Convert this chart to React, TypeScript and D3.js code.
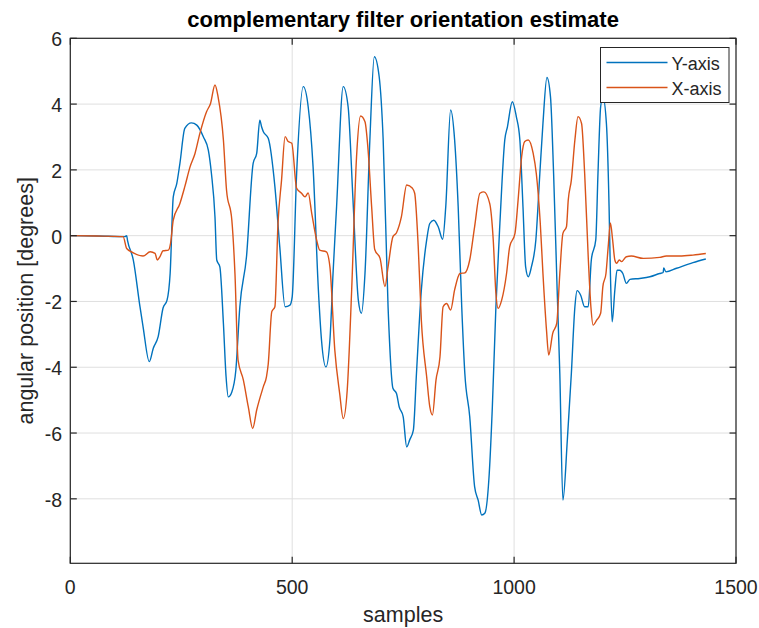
import React from "react";
import * as d3 from "d3";

// Complementary-filter angle estimates, [sample index, degrees]
const yAxisTrace: [number, number][] = [
  [0, 0], [60, -0.01], [123, -0.03], [127, 0.0], [129, -0.15], [142, -0.74], [157, -2.16], [164, -2.77],
  [178, -3.83], [187, -3.42], [198, -3.07], [209, -2.2], [218, -1.96], [225, -1.14], [232, 1.18], [240, 1.59],
  [247, 2.2], [258, 3.26], [273, 3.43], [285, 3.36], [300, 3.0], [311, 2.6], [318, 1.89], [326, 0.57],
  [330, -0.74], [337, -0.95], [345, -2.67], [351, -4.29], [356, -4.9], [364, -4.75], [373, -4.09], [382, -2.16],
  [397, -0.64], [412, 2.2], [420, 2.5], [427, 3.51], [431, 3.31], [435, 3.16], [446, 2.96], [461, 1.49],
  [472, -0.34], [484, -2.16], [495, -2.11], [500, -1.86], [510, 1.89], [525, 4.53], [536, 3.92], [547, 2.1],
  [559, -1.65], [566, -3.17], [576, -3.99], [585, -3.17], [592, -1.15], [600, 0.88], [615, 4.53], [626, 3.92],
  [637, 1.08], [649, -1.96], [656, -2.36], [664, -1.15], [675, 2.91], [685, 5.44], [696, 4.83], [705, 2.91],
  [716, -2.16], [727, -4.64], [735, -4.8], [741, -5.2], [750, -5.5], [758, -6.42], [765, -6.2], [773, -5.91],
  [780, -4.19], [791, -1.65], [803, -0.13], [810, 0.37], [819, 0.47], [829, 0.27], [839, -0.11], [846, 0.88],
  [857, 3.82], [866, 2.91], [874, 0.88], [882, -2.16], [889, -4.19], [900, -5.5], [911, -7.63], [919, -8.04],
  [927, -8.49], [934, -8.44], [944, -7.23], [951, -5.2], [959, -2.16], [968, 0.37], [979, 2.91], [985, 3.31],
  [996, 4.07], [1005, 3.62], [1013, 2.91], [1020, 0.88], [1026, -0.95], [1032, -1.25], [1039, -0.95], [1049, -0.13],
  [1058, 1.89], [1065, 3.41], [1074, 4.81], [1082, 4.22], [1089, 1.89], [1097, -1.65], [1103, -4.19], [1110, -8.04],
  [1120, -6.2], [1129, -4.19], [1137, -2.16], [1142, -1.67], [1150, -1.81], [1159, -2.16], [1167, -2.16], [1174, -0.74],
  [1184, -0.13], [1189, 1.89], [1195, 3.92], [1200, 4.22], [1208, 3.41], [1214, 0.88], [1217, -1.15], [1221, -2.62],
  [1227, -1.65], [1232, -1.05], [1238, -1.05], [1245, -1.15], [1253, -1.45], [1261, -1.33], [1283, -1.3], [1306, -1.25],
  [1328, -1.15], [1336, -1.12], [1337, -0.98], [1342, -1.1], [1366, -0.99], [1403, -0.82], [1432, -0.71],
];

const xAxisTrace: [number, number][] = [
  [0, 0], [60, -0.01], [119, -0.03], [127, -0.39], [142, -0.52], [164, -0.62], [180, -0.49], [191, -0.54],
  [196, -0.74], [202, -0.64], [209, -0.46], [221, -0.44], [226, -0.23], [232, 0.47], [247, 0.98], [258, 1.49],
  [270, 2.1], [281, 2.5], [292, 3.11], [307, 3.77], [316, 4.02], [326, 4.58], [333, 4.22], [345, 2.91],
  [352, 1.39], [364, 0.47], [371, -1.15], [378, -3.78], [390, -4.39], [401, -5.2], [411, -5.86], [420, -5.3],
  [435, -4.59], [442, -4.29], [446, -3.9], [454, -2.31], [461, -2.16], [468, 0.37], [476, 1.69], [484, 3.01],
  [491, 2.86], [499, 2.81], [510, 1.44], [521, 1.29], [529, 1.18], [536, 1.3], [544, 0.68], [555, -0.13],
  [562, -0.44], [577, -0.49], [585, -0.95], [596, -3.48], [607, -4.8], [615, -5.56], [624, -4.69], [634, -1.65],
  [645, 2.4], [654, 3.64], [664, 3.46], [671, 2.6], [679, 0.88], [686, -0.42], [698, -0.69], [709, -1.55],
  [716, -0.95], [727, -0.03], [735, 0.09], [746, 0.57], [758, 1.54], [771, 1.44], [776, 1.29], [784, -0.34],
  [791, -2.57], [803, -4.29], [810, -5.2], [816, -5.45], [824, -4.39], [833, -3.68], [840, -2.16], [848, -2.06],
  [857, -2.26], [866, -1.65], [878, -1.15], [889, -1.13], [900, -0.74], [911, 0.27], [923, 1.29], [932, 1.33],
  [945, 0.98], [953, -0.13], [959, -1.75], [964, -2.21], [972, -1.96], [983, -1.15], [990, -0.34], [1002, 0.07],
  [1009, 1.08], [1017, 2.4], [1024, 2.86], [1032, 2.91], [1043, 2.5], [1050, 1.89], [1059, 0.37], [1065, -1.15],
  [1073, -2.87], [1078, -3.63], [1087, -2.97], [1096, -2.67], [1103, -1.15], [1110, 0.07], [1118, 0.27], [1122, 1.08],
  [1129, 1.69], [1137, 2.91], [1144, 3.62], [1152, 3.41], [1159, 1.89], [1167, -0.64], [1173, -2.16], [1178, -2.72],
  [1186, -2.57], [1195, -2.36], [1200, -1.55], [1207, -1.15], [1212, -0.34], [1217, 0.39], [1222, -0.13], [1227, -0.74],
  [1231, -0.84], [1237, -0.74], [1242, -0.79], [1253, -0.64], [1264, -0.62], [1291, -0.69], [1328, -0.66], [1343, -0.62],
  [1373, -0.62], [1403, -0.59], [1432, -0.54],
];

const xTicks = [0, 500, 1000, 1500];
const yTicks = [-8, -6, -4, -2, 0, 2, 4, 6];
const xDomain: [number, number] = [0, 1500];
const yDomain: [number, number] = [-9.96, 6];

const seriesNames = ["Y-axis", "X-axis"];
const seriesColors = ["#0072BD", "#D95319"];

const W = 759;
const H = 628;
const left = 70.3;
const right = 736;
const top = 38.3;
const bottom = 563.3;

const FONT = "'Liberation Sans', Arial, Helvetica, sans-serif";
const INK = "#262626";

export default function App() {
  const x = d3.scaleLinear().domain(xDomain).range([left, right]);
  const y = d3.scaleLinear().domain(yDomain).range([bottom, top]);
  const line = d3
    .line<[number, number]>()
    .x((d) => x(d[0]))
    .y((d) => y(d[1]))
    .curve(d3.curveMonotoneX);
  const traces = [yAxisTrace, xAxisTrace];
  const tickLen = 6.5;

  return (
    <svg
      width={W}
      height={H}
      style={{ position: "absolute", left: 0, top: 0, background: "#fff" }}
      fontFamily={FONT}
    >
      <rect x={0} y={0} width={W} height={H} fill="#fff" />
      {/* grid */}
      <g stroke="#dfdfdf" strokeWidth={1}>
        {xTicks.map((t) => (
          <line key={"gx" + t} x1={x(t)} x2={x(t)} y1={top} y2={bottom} />
        ))}
        {yTicks.map((t) => (
          <line key={"gy" + t} x1={left} x2={right} y1={y(t)} y2={y(t)} />
        ))}
      </g>
      {/* data */}
      <g fill="none" strokeWidth={1.4} strokeLinejoin="round">
        {traces.map((tr, i) => (
          <path key={i} d={line(tr) || ""} stroke={seriesColors[i]} />
        ))}
      </g>
      {/* box and ticks */}
      <g stroke={INK} strokeWidth={1.2} fill="none">
        <rect x={left} y={top} width={right - left} height={bottom - top} />
        {xTicks.map((t) => (
          <g key={"tx" + t}>
            <line x1={x(t)} x2={x(t)} y1={bottom} y2={bottom - tickLen} />
            <line x1={x(t)} x2={x(t)} y1={top} y2={top + tickLen} />
          </g>
        ))}
        {yTicks.map((t) => (
          <g key={"ty" + t}>
            <line x1={left} x2={left + tickLen} y1={y(t)} y2={y(t)} />
            <line x1={right} x2={right - tickLen} y1={y(t)} y2={y(t)} />
          </g>
        ))}
      </g>
      {/* tick labels */}
      <g fill={INK} fontSize={19.5}>
        {xTicks.map((t) => (
          <text key={"lx" + t} x={x(t)} y={594} textAnchor="middle">
            {t}
          </text>
        ))}
        {yTicks.map((t) => (
          <text key={"ly" + t} x={62} y={y(t) + 8} textAnchor="end">
            {t}
          </text>
        ))}
      </g>
      {/* axis labels & title */}
      <text x={(left + right) / 2} y={622} textAnchor="middle" fontSize={21.5} fill={INK}>
        samples
      </text>
      <text
        transform={`translate(33, ${(top + bottom) / 2}) rotate(-90)`}
        textAnchor="middle"
        fontSize={21.5}
        fill={INK}
      >
        angular position [degrees]
      </text>
      <text
        x={(left + right) / 2}
        y={26.5}
        textAnchor="middle"
        fontSize={22}
        fontWeight="bold"
        fill="#000"
      >
        complementary filter orientation estimate
      </text>
      {/* legend */}
      <g>
        <rect x={600.5} y={47.5} width={128.5} height={55} fill="#fff" stroke={INK} strokeWidth={1} />
        {seriesNames.map((n, i) => (
          <g key={n}>
            <line
              x1={606.5}
              x2={667.5}
              y1={62.5 + i * 25}
              y2={62.5 + i * 25}
              stroke={seriesColors[i]}
              strokeWidth={1.4}
            />
            <text x={671.5} y={69.5 + i * 25} fontSize={18} fill={INK}>
              {n}
            </text>
          </g>
        ))}
      </g>
    </svg>
  );
}
